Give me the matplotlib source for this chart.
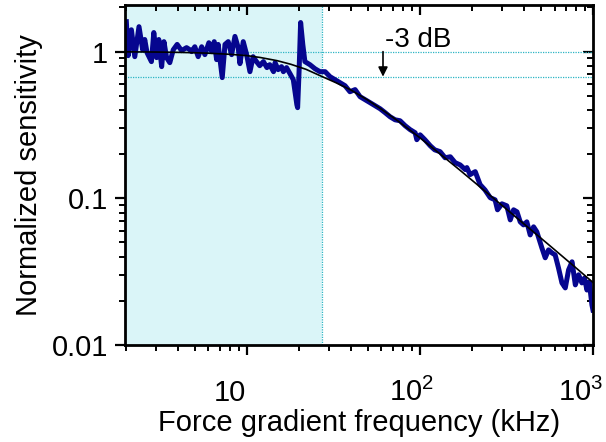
"""Normalized sensitivity vs force gradient frequency (log-log)."""
import matplotlib
matplotlib.use("Agg")
import matplotlib.pyplot as plt
from matplotlib.ticker import FixedLocator, LogLocator, NullFormatter
from matplotlib.transforms import ScaledTranslation

plt.rcParams["font.family"] = ["Liberation Sans", "DejaVu Sans"]
plt.rcParams["mathtext.fontset"] = "custom"
plt.rcParams["mathtext.rm"] = "Liberation Sans"
plt.rcParams["mathtext.it"] = "Liberation Sans:italic"

freq_khz = [
    2.02, 2.07, 2.16, 2.26, 2.39, 2.51, 2.58, 2.66, 2.82, 2.91,
    3.02, 3.11, 3.23, 3.33, 3.45, 3.60, 3.77, 3.97, 4.21, 4.50,
    4.70, 4.81, 5.02, 5.25, 5.50, 5.74, 6.05, 6.28, 6.50, 6.71,
    6.85, 7.23, 7.50, 7.83, 8.19, 8.56, 8.94, 9.15, 9.56, 10.0,
    10.45, 10.9, 11.4, 11.9, 12.5, 13.1, 13.6, 14.3, 14.6, 15.2,
    15.9, 16.3, 17.0, 17.8, 18.6, 19.5, 19.7, 20.1, 20.5, 21.1,
    21.7, 23.2, 24.8, 26.5, 28.4, 30.3, 32.4, 34.6, 37.0, 39.5,
    42.3, 45.2, 48.3, 51.6, 55.2, 59.0, 63.0, 67.3, 72.0, 76.9,
    82.2, 87.9, 94.0, 96.1, 100.4, 107, 115, 122, 131, 140,
    150, 160, 171, 183, 187, 195, 209, 223, 238, 255,
    272, 281, 298, 318, 333, 348, 364, 380, 397, 415,
    434, 454, 474, 507, 530, 554, 579, 605, 632, 662,
    692, 723, 757, 791, 826, 863, 893, 923, 952, 986,
    1000,
]
sensitivity = [
    1.60, 0.939, 1.41, 0.924, 1.48, 1.03, 1.21, 0.984, 0.855, 1.35,
    0.910, 1.21, 0.790, 1.17, 0.910, 0.841, 1.03, 1.12, 1.016, 1.065,
    1.03, 1.00, 1.08, 0.924, 1.08, 0.954, 1.15, 1.00, 1.17, 0.882,
    1.12, 0.665, 1.12, 1.17, 0.954, 1.27, 1.065, 0.828, 1.17, 0.954,
    0.730, 0.924, 0.855, 0.802, 0.855, 0.778, 0.815, 0.730, 0.841, 0.754,
    0.790, 0.730, 0.778, 0.708, 0.644, 0.435, 0.415, 0.754, 1.58, 1.12,
    0.855, 0.815, 0.765, 0.730, 0.730, 0.675, 0.644, 0.614, 0.586, 0.533,
    0.551, 0.493, 0.470, 0.449, 0.428, 0.408, 0.384, 0.360, 0.343, 0.338,
    0.313, 0.294, 0.280, 0.251, 0.271, 0.251, 0.228, 0.214, 0.208, 0.189,
    0.192, 0.175, 0.169, 0.157, 0.162, 0.145, 0.152, 0.124, 0.114, 0.101,
    0.0977, 0.0835, 0.0917, 0.0889, 0.0713, 0.0835, 0.0809, 0.0691, 0.0659, 0.0691,
    0.0563, 0.0639, 0.0591, 0.0459, 0.0393, 0.0445, 0.0425, 0.0411, 0.0336, 0.0265,
    0.0245, 0.0325, 0.0369, 0.0257, 0.0301, 0.0265, 0.0286, 0.0237, 0.0269, 0.0188,
    0.0173,
]

# fitted response (black curve)
fit_freq = [2, 3, 4, 5, 6, 8, 10, 12, 15, 18, 22, 27, 33, 40, 50, 60,
            75, 100, 130, 170, 220, 300, 400, 550, 750, 1000]
fit_sens = [0.997, 0.994, 0.989, 0.983, 0.976, 0.959, 0.940, 0.912, 0.868,
            0.820, 0.758, 0.680, 0.612, 0.548, 0.468, 0.405, 0.336, 0.259,
            0.202, 0.156, 0.121, 0.089, 0.0668, 0.0487, 0.0357, 0.0267]

x_ticks = [10, 100, 1000]
x_tick_labels = ["10", r"$10^2$", r"$10^3$"]
y_ticks = [0.01, 0.1, 1]
y_tick_labels = ["0.01", "0.1", "1"]

X_LIMITS = (1.98, 1000)
Y_LIMITS = (0.01, 2.08)
CUTOFF_KHZ = 27.2
LEVEL_0DB = 1.0
LEVEL_3DB = 0.675
ARROW_KHZ = 61.3

SHADE = "#daf5f8"
GUIDE = "#2cb5c4"
DATA_BLUE = "#06068f"

# horizontal nudge of x tick labels (points), as laid out in the original
X_LABEL_SHIFT = [-12.0, -6.0, -9.0]


def mirror_ticks(axis):
    axis.set_major_formatter(NullFormatter())
    axis.set_minor_formatter(NullFormatter())
    axis.set_minor_locator(LogLocator(base=10, subs=range(2, 10)))


def style_axes(fig, ax):
    ax.set_xscale("log")
    ax.set_yscale("log")
    ax.set_xlim(*X_LIMITS)
    ax.set_ylim(*Y_LIMITS)
    for spine in ax.spines.values():
        spine.set_linewidth(2)

    ax.set_xticks(x_ticks, x_tick_labels)
    ax.xaxis.set_minor_locator(LogLocator(base=10, subs=range(2, 10)))
    ax.xaxis.set_minor_formatter(NullFormatter())
    ax.set_yticks(y_ticks, y_tick_labels)
    ax.yaxis.set_minor_locator(LogLocator(base=10, subs=range(2, 10)))
    ax.yaxis.set_minor_formatter(NullFormatter())

    ax.tick_params(which="major", direction="out", length=7, width=1.6,
                   labelsize=21)
    ax.tick_params(which="minor", direction="out", length=4.5, width=1.4)
    ax.tick_params(axis="y", which="major", pad=5)
    ax.tick_params(axis="x", which="major", pad=33)
    for lbl, shift in zip(ax.get_xticklabels(), X_LABEL_SHIFT):
        lbl.set_verticalalignment("baseline")
        lbl.set_transform(lbl.get_transform()
                          + ScaledTranslation(shift / 72, 0, fig.dpi_scale_trans))

    top = ax.secondary_xaxis("top")
    top.xaxis.set_major_locator(FixedLocator(x_ticks))
    mirror_ticks(top.xaxis)
    top.tick_params(which="major", direction="in", length=7, width=1.6)
    top.tick_params(which="minor", direction="in", length=4.5, width=1.4)

    right = ax.secondary_yaxis("right")
    right.yaxis.set_major_locator(FixedLocator(y_ticks))
    mirror_ticks(right.yaxis)
    right.tick_params(which="major", direction="in", length=7, width=1.6)
    right.tick_params(which="minor", direction="in", length=4.5, width=1.4)


def main():
    fig = plt.figure(figsize=(6.06, 4.42), dpi=100)
    ax = fig.add_axes([0.206, 0.2195, 0.7725, 0.7692])

    ax.axvspan(X_LIMITS[0], CUTOFF_KHZ, color=SHADE, lw=0, zorder=0)
    ax.axvline(CUTOFF_KHZ, color=GUIDE, lw=0.9, ls=(0, (1, 1)), zorder=1)
    for level in (LEVEL_0DB, LEVEL_3DB):
        ax.axhline(level, color=GUIDE, lw=0.9, ls=(0, (1, 1)), zorder=1)

    ax.plot(freq_khz, sensitivity, color=DATA_BLUE, lw=3.6,
            solid_joinstyle="round", zorder=2)
    ax.plot(fit_freq, fit_sens, color="black", lw=1.2, zorder=3)

    ax.annotate("", xy=(ARROW_KHZ, LEVEL_3DB), xytext=(ARROW_KHZ, LEVEL_0DB),
                arrowprops=dict(arrowstyle="-|>", color="black", lw=1.2,
                                mutation_scale=14, shrinkA=0, shrinkB=0),
                zorder=4)
    ax.text(63, 1.077, "-3 dB", fontsize=20, ha="left", va="baseline",
            zorder=4)

    style_axes(fig, ax)
    ax.set_xlabel("Force gradient frequency (kHz)", fontsize=21, labelpad=2)
    ax.set_ylabel("Normalized sensitivity", fontsize=21, labelpad=6)

    fig.savefig("out.png", dpi=100)
    plt.close(fig)


if __name__ == "__main__":
    main()
